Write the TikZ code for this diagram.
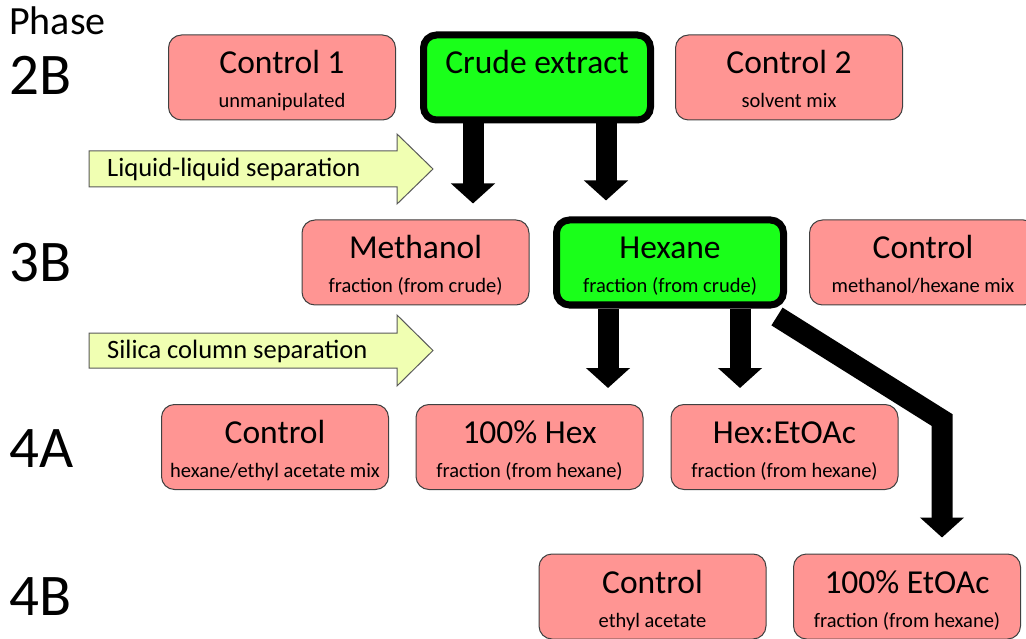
\documentclass[tikz,border=0pt]{standalone}
\usepackage{fontspec}
\setmainfont{Carlito}
\usetikzlibrary{arrows.meta,positioning,backgrounds}

\definecolor{samplepink}{RGB}{255,149,147}
\definecolor{chosengreen}{RGB}{26,255,26}
\definecolor{stageyellow}{RGB}{240,255,178}

\newcommand{\boxtext}[2]{{\fontsize{33.5}{34}\selectfont #1}\\#2}

\begin{document}
\begin{tikzpicture}[x=1pt,y=-1pt]
		\tikzstyle{sample}=[draw=black!75, line width=1pt, fill=samplepink, rounded corners=13pt,
			minimum width=227pt, minimum height=85pt, inner sep=0pt, align=center,
			text height=73pt, text depth=12pt, font=\fontsize{20.5}{34}\selectfont]
		\tikzstyle{chosen}=[sample, draw=black, line width=7pt, fill=chosengreen]
		\tikzstyle{flow}=[line width=21pt, line join=miter, shorten >=16pt,
			-{Triangle[length=20pt,width=43pt]}]
		\tikzstyle{stage}=[draw=black!65, line width=1pt, fill=stageyellow]
		\tikzstyle{stagetext}=[anchor=base west, inner sep=0pt, font=\fontsize{26.5}{30}\selectfont]
		\tikzstyle{phaselbl}=[anchor=base west, inner sep=0pt, font=\fontsize{59}{60}\selectfont]
		
		\useasboundingbox (0,0) rectangle (1026,639);
		
		% phase labels
		\node[phaselbl, font=\fontsize{40}{40}\selectfont] (phase) at (9,35) {Phase};
		\node[phaselbl] (p2b) at (9,95) {2B};
		\node[phaselbl] (p3b) at (9,282) {3B};
		\node[phaselbl] (p4a) at (9,467) {4A};
		\node[phaselbl] (p4b) at (9,615) {4B};
		
		% phase 2B
		\node[sample] (control1) at (282,77.5) {\boxtext{Control 1}{unmanipulated}};
		\node[chosen] (crude) at (537,77.5) {\boxtext{Crude extract}{\mbox{}}};
		\node[sample] (control2) at (789,77.5) {\boxtext{Control 2}{solvent mix}};
		
		% phase 3B
		\node[sample] (methanol) at (415.5,262.5) {\boxtext{Methanol}{fraction (from crude)}};
		\node[chosen] (hexane) at (670,262.5) {\boxtext{Hexane}{fraction (from crude)}};
		\node[sample] (control3) at (923,262.5) {\boxtext{Control}{methanol/hexane mix}};
		
		% phase 4A
		\node[sample] (control4a) at (275,447) {\boxtext{Control}{hexane/ethyl acetate mix}};
		\node[sample] (hex100) at (529.5,447) {\boxtext{100\% Hex}{fraction (from hexane)}};
		\node[sample] (hexetoac) at (784.5,447) {\boxtext{Hex:EtOAc}{fraction (from hexane)}};
		
		% phase 4B
		\node[sample] (control4b) at (652.5,596.5) {\boxtext{Control}{ethyl acetate}};
		\node[sample] (etoac100) at (907,596.5) {\boxtext{100\% EtOAc}{fraction (from hexane)}};
		
		% separation steps
		\draw[stage] (89,151) -- (397,151) -- (397,134) -- (433,169) -- (397,204) -- (397,187) -- (89,187) -- cycle;
		\node[stagetext] (liquid) at (107,177) {Liquid-liquid separation};
		\draw[stage] (89,333) -- (397,333) -- (397,315) -- (433,350.5) -- (397,386) -- (397,368) -- (89,368) -- cycle;
		\node[stagetext] (silica) at (107,358) {Silica column separation};
		
		\coordinate (crudeL) at ([xshift=-64pt]crude.south);
		\coordinate (crudeR) at ([xshift=69pt]crude.south);
		\coordinate (hexL) at ([xshift=-62pt]hexane.south);
		\coordinate (hexR) at ([xshift=70pt]hexane.south);
		\coordinate (hexC) at ([shift={(-10pt,-8pt)}]hexane.south east);
		\coordinate (bend) at (942,420);
		
		\begin{scope}[on background layer]
		\draw[flow] (crudeL) -- (crudeL |- methanol.north);
		\draw[flow] (crudeR) -- (crudeR |- hexane.north);
		\draw[flow] (hexL) -- (hexL |- hex100.north);
		\draw[flow] (hexR) -- (hexR |- hexetoac.north);
		\draw[flow] (hexC) -- (bend) -- (bend |- etoac100.north);
		\end{scope}
\end{tikzpicture}
\end{document}
